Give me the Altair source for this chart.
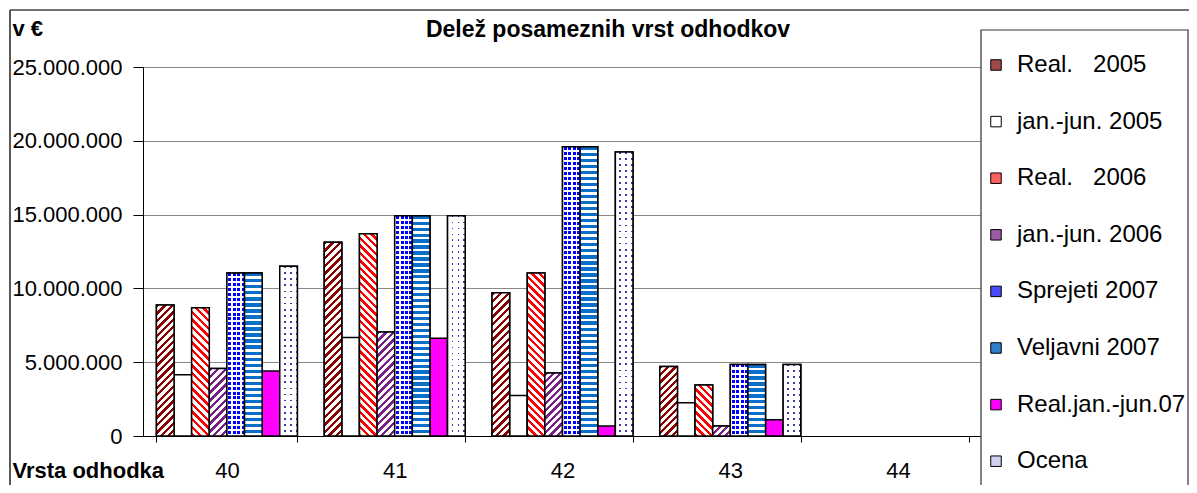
import altair as alt
import pandas as pd

# ---------------- data ----------------
categories = ["40", "41", "42", "43", "44"]
series = [
    "Real.\u00a0\u00a0\u00a02005",
    "jan.-jun. 2005",
    "Real.\u00a0\u00a0\u00a02006",
    "jan.-jun. 2006",
    "Sprejeti 2007",
    "Veljavni 2007",
    "Real.jan.-jun.07",
    "Ocena",
]
real_2005 = [8870000, 13130000, 9700000, 4710000, 0]
janjun_2005 = [4150000, 6670000, 2740000, 2250000, 0]
real_2006 = [8690000, 13700000, 11040000, 3460000, 0]
janjun_2006 = [4580000, 7050000, 4260000, 670000, 0]
sprejeti_2007 = [11040000, 14930000, 19600000, 4850000, 0]
veljavni_2007 = [11040000, 14930000, 19600000, 4850000, 0]
real_janjun_07 = [4400000, 6630000, 670000, 1100000, 0]
ocena = [11500000, 14930000, 19240000, 4850000, 0]
all_values = [real_2005, janjun_2005, real_2006, janjun_2006,
              sprejeti_2007, veljavni_2007, real_janjun_07, ocena]

title_text = "Delež posameznih vrst odhodkov"
y_title = "v €"
x_title = "Vrsta odhodka"

rows = []
for s, vals in zip(series, all_values):
    for c, v in zip(categories, vals):
        rows.append({"cat": c, "series": s, "value": v})
df = pd.DataFrame(rows)

# ---------------- layout / style ----------------
W, H = 839, 369
YMAX = 25000000
FONT = "Liberation Sans"
P_IN, P_OUT = 0.16, 0.08
step = W / (len(categories) - P_IN + 2 * P_OUT)
bar_w = step * (1 - P_IN) / len(series)

legend_colors = ["#a04848", "#ffffff", "#ff6060", "#9a5aa4", "#4a4aff",
                 "#2f80cc", "#ff00ff", "#d0d0ee"]

x_enc = alt.X("cat:N", scale=alt.Scale(domain=categories, paddingInner=P_IN, paddingOuter=P_OUT),
              axis=alt.Axis(title=x_title, labelAngle=0, labelFontSize=22, labelFont=FONT,
                            labelColor="black", tickBand="extent", tickSize=6, tickColor="black",
                            domainColor="black", labelBaseline="middle", labelPadding=28,
                            titleFontSize=22, titleFont=FONT, titleFontWeight="bold",
                            titleColor="black", titleX=-131, titleY=34, titleAlign="left",
                            titleBaseline="middle", grid=False))
xo_enc = alt.XOffset("series:N", sort=series,
                     scale=alt.Scale(domain=series, paddingInner=0, paddingOuter=0))
y_enc = alt.Y("value:Q", scale=alt.Scale(domain=[0, YMAX], nice=False),
              axis=alt.Axis(title=y_title, titleAngle=0, titleX=-131, titleY=-39,
                            titleAlign="left", titleBaseline="middle", titleFontSize=22,
                            titleFont=FONT, titleFontWeight="bold", titleColor="black",
                            values=[0, 5000000, 10000000, 15000000, 20000000, 25000000],
                            format=",d", labelFontSize=22, labelFont=FONT, labelColor="black",
                            labelPadding=11, tickSize=10, tickColor="black", domainColor="black",
                            gridColor="#888888", gridWidth=1))


def stops(c1, c2, n, frac):
    out = []
    n = max(1, n)
    for k in range(n):
        a = round(k / n, 5)
        b = round((k + frac) / n, 5)
        e = round((k + 1) / n, 5)
        out += [{"offset": a, "color": c1}, {"offset": b, "color": c1},
                {"offset": b, "color": c2}, {"offset": e, "color": c2}]
    return out


def diag(color, h, forward=True, period=7.5, frac=0.45):
    w = bar_w
    s = (w + h) / (w * w + h * h)
    n = int(round((w + h) / period))
    if forward:  # "/" stripes
        g = {"x1": 0, "y1": 0, "x2": w * s, "y2": h * s}
    else:  # "\" stripes
        g = {"x1": 0, "y1": 1, "x2": w * s, "y2": 1 - h * s}
    g = {k: round(v, 5) for k, v in g.items()}
    return dict(gradient="linear", stops=stops(color, "#ffffff", n, frac), **g)


def horiz(color, h, period=6.0, frac=0.5, other="#ffffff"):
    n = int(round(h / period))
    return dict(gradient="linear", x1=0, y1=0, x2=0, y2=1, stops=stops(color, other, n, frac))


def vert(color, period=6.0, frac=0.5, other="rgba(255,255,255,0)"):
    n = int(round(bar_w / period))
    return dict(gradient="linear", x1=0, y1=0, x2=1, y2=0, stops=stops(color, other, n, frac))


def fills_for(series_idx, h):
    if series_idx == 0:
        return [diag("#8b0000", h, True)]
    if series_idx == 2:
        return [diag("#ff0000", h, False)]
    if series_idx == 3:
        return [diag("#7a1f86", h, True)]
    if series_idx == 4:
        return [horiz("#0000ff", h, 5.0, 0.6), vert("#ffffff", 4.4, 0.35)]
    if series_idx == 5:
        return [horiz("#0a6fc8", h, 6.0, 0.55)]
    if series_idx == 7:
        return [horiz("#3a3aa8", h, 6.0, 0.3), vert("#ffffff", 6.0, 0.7)]
    return []


base = alt.Chart(df).transform_filter("datum.value > 0").mark_bar(
    stroke="black", strokeWidth=1.5
).encode(
    x=x_enc, xOffset=xo_enc, y=y_enc,
    color=alt.Color("series:N", sort=series,
                    scale=alt.Scale(domain=series, range=legend_colors),
                    legend=alt.Legend(orient="none", legendX=841, legendY=-14, title=None,
                                      symbolType="square", symbolSize=110,
                                      symbolStrokeColor="black", symbolStrokeWidth=1,
                                      labelFontSize=24, labelFont=FONT, labelColor="black",
                                      labelLimit=400, labelOffset=9, rowPadding=32.6,
                                      padding=0)),
)

layers = [base]
for si, s in enumerate(series):
    for ci, c in enumerate(categories):
        v = all_values[si][ci]
        if v <= 0:
            continue
        h = v / YMAX * H
        fl = fills_for(si, h)
        for li, f in enumerate(fl):
            last = li == len(fl) - 1
            mk = dict(fill=f, stroke="black" if last else "transparent",
                      strokeWidth=1.5 if last else 0)
            layers.append(
                alt.Chart(df).transform_filter(
                    f"datum.cat == '{c}' && datum.series == '{s}'"
                ).mark_bar(**mk).encode(x=x_enc, xOffset=xo_enc, y=y_enc)
            )

marker = pd.DataFrame({"t": [title_text]})
title_layer = alt.Chart(marker).mark_text(
    font=FONT, fontSize=23, fontWeight="bold", color="black", align="center", baseline="middle"
).encode(text="t:N", x=alt.value(465), y=alt.value(-37))

frame_left = alt.Chart(marker).mark_rule(color="#222222", strokeWidth=1.5).encode(
    x=alt.value(-133), y=alt.value(-57), y2=alt.value(440))
frame_top = alt.Chart(marker).mark_rule(color="#444444", strokeWidth=1.5).encode(
    x=alt.value(-133), x2=alt.value(1060), y=alt.value(-57))
legend_box = alt.Chart(marker).mark_rect(fill="white", stroke="#333333", strokeWidth=1.2).encode(
    x=alt.value(838), x2=alt.value(1045), y=alt.value(-37), y2=alt.value(424))

chart = alt.layer(legend_box, *layers, title_layer, frame_left, frame_top).properties(
    width=W, height=H,
    autosize=alt.AutoSizeParams(type="none"),
    padding={"left": 135, "top": 59, "right": 207, "bottom": 49},
).configure_view(stroke=None).configure(
    font=FONT,
    locale={"number": {"decimal": ",", "thousands": ".", "grouping": [3],
                       "currency": ["", " €"]}},
)

chart.save("out.html", embed_options={"renderer": "svg", "actions": False})
